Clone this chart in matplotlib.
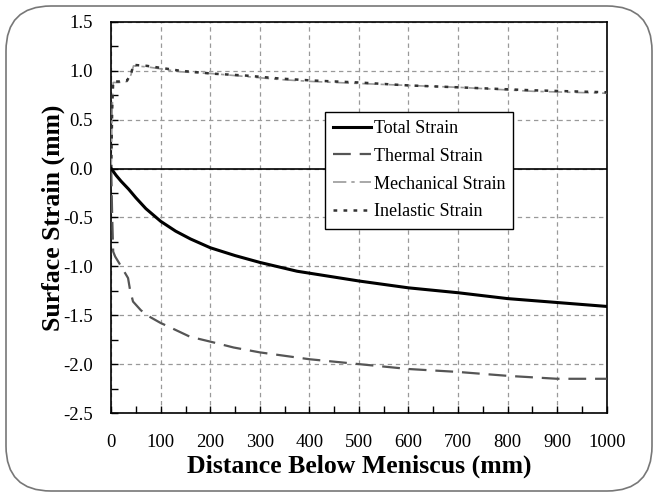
import numpy as np
import matplotlib
matplotlib.use("Agg")
import matplotlib.pyplot as plt
from matplotlib.patches import FancyBboxPatch
from matplotlib.transforms import IdentityTransform
from matplotlib.ticker import MultipleLocator

# distance below meniscus (mm)
x_total = [0, 10, 20, 35, 50, 70, 100, 130, 160, 200, 250, 300, 375, 400, 500, 600, 700, 800, 900, 1000]
total = [0, -0.07, -0.13, -0.21, -0.30, -0.41, -0.54, -0.64, -0.72, -0.81, -0.89, -0.96, -1.05, -1.07,
         -1.15, -1.22, -1.27, -1.33, -1.37, -1.41]

x_thermal = [0, 2, 4, 8, 20, 34, 38, 44, 60, 79, 100, 113, 159, 200, 247, 300, 400, 500,
             600, 700, 800, 900, 1000]
thermal = [0, -0.5, -0.85, -0.90, -1.00, -1.12, -1.24, -1.36, -1.45, -1.52, -1.58, -1.61,
           -1.72, -1.77, -1.83, -1.88, -1.95, -2.00, -2.05, -2.08, -2.12, -2.15, -2.15]

x_mech = [0, 2, 4, 15, 32, 40, 45, 72, 113, 139, 206, 274, 341, 407, 500, 600, 704, 851, 1000]
mechanical = [0, 0.6, 0.88, 0.88, 0.89, 0.96, 1.05, 1.04, 1.01, 0.99, 0.97, 0.94, 0.91, 0.89,
              0.87, 0.85, 0.83, 0.79, 0.77]

x_inel = [0, 2, 4, 15, 32, 40, 45, 72, 113, 139, 206, 274, 341, 407, 500, 600, 704, 851, 1000]
inelastic = [0, 0.62, 0.89, 0.89, 0.90, 0.97, 1.06, 1.05, 1.02, 1.00, 0.97, 0.95, 0.92, 0.90,
             0.88, 0.85, 0.83, 0.80, 0.78]

serif = "Liberation Serif"

fig = plt.figure(figsize=(6.58, 4.97), dpi=100)
ax = fig.add_axes([0.169, 0.169, 0.753, 0.787])

# rounded frame around the whole picture
frame = FancyBboxPatch((6, 6), 646, 485, boxstyle="round,pad=0,rounding_size=45",
                       transform=IdentityTransform(), fill=False, edgecolor="#777777",
                       linewidth=1.2)
fig.patches.append(frame)

ax.axhline(0, color="black", linewidth=1.2, zorder=2)

ax.plot(x_total, total, color="black", linewidth=2.2, label="Total Strain", zorder=4)
ax.plot(x_thermal, thermal, color="#555555", linewidth=1.6, dashes=(8, 4),
        label="Thermal Strain", zorder=3)
ax.plot(x_mech, mechanical, color="#9a9a9a", linewidth=1.2, dashes=(8, 3, 2, 3),
        label="Mechanical Strain", zorder=3)
ax.plot(x_inel, inelastic, color="#333333", linewidth=1.8, dashes=(1.5, 2.5),
        label="Inelastic Strain", zorder=3)

ax.set_xlim(0, 1000)
ax.set_ylim(-2.5, 1.5)
ax.xaxis.set_major_locator(MultipleLocator(100))
ax.xaxis.set_minor_locator(MultipleLocator(50))
ax.yaxis.set_major_locator(MultipleLocator(0.5))
ax.yaxis.set_minor_locator(MultipleLocator(0.25))
ax.yaxis.set_major_formatter(matplotlib.ticker.FormatStrFormatter("%.1f"))
ax.tick_params(which="both", direction="in", length=5, width=1, labelsize=13.5, pad=13)
ax.tick_params(axis="x", pad=15)
ax.grid(True, which="major", color="#999999", linestyle=(0, (3.5, 3)), linewidth=0.9)
for lab in ax.get_xticklabels() + ax.get_yticklabels():
    lab.set_fontfamily(serif)
for s in ax.spines.values():
    s.set_linewidth(1.2)

ax.set_xlabel("Distance Below Meniscus (mm)", fontfamily=serif, fontweight="bold",
              fontsize=18.5, labelpad=3)
ax.set_ylabel("Surface Strain (mm)", fontfamily=serif, fontweight="bold",
              fontsize=18.5, labelpad=-1)

leg = ax.legend(loc="upper left", bbox_to_anchor=(0.431, 0.77), borderaxespad=0,
                prop={"family": serif, "size": 13}, frameon=True, fancybox=False,
                edgecolor="black", framealpha=1, handlelength=2.1, handletextpad=0.15,
                labelspacing=0.6, borderpad=0.45)
leg.get_frame().set_linewidth(1.0)

fig.savefig("out.png", dpi=100)
